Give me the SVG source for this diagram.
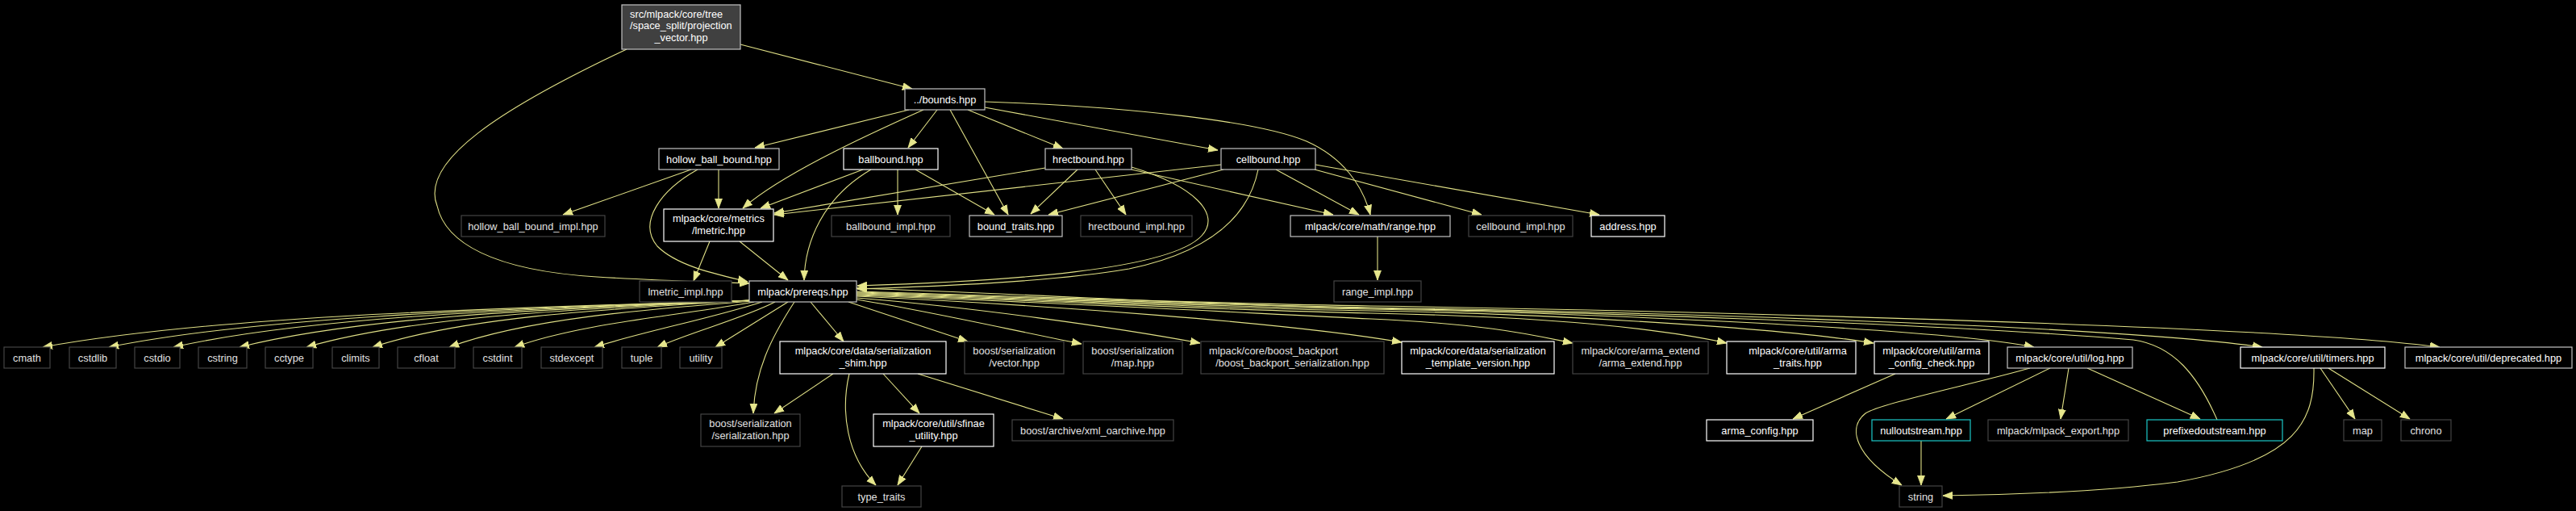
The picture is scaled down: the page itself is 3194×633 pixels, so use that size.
<svg xmlns="http://www.w3.org/2000/svg" width="3194" height="633" viewBox="0 0 3194 633">
<style>
text{font-family:"Liberation Sans",Arial,sans-serif;font-size:12.8px;fill:#ffffff;text-anchor:middle}
.n rect{fill:#000000;stroke-width:1.2}
.doc rect{stroke:#ffffff}
.gry rect{stroke:#c4c4c4}
.ext rect{stroke:#444444}
.ext text{fill:#e2e2e2}
.trn rect{stroke:#1cc8c8}
#edges path{fill:none;stroke:#e0e086;stroke-width:1.1;marker-end:url(#ah)}
</style>
<defs>
<marker id="ah" markerWidth="13" markerHeight="10" refX="12" refY="5" orient="auto" markerUnits="userSpaceOnUse"><path d="M0,0.5 L12,5 L0,9.5 z" fill="#e6e68c" stroke="#e6e68c" stroke-width="0.8"/></marker>
</defs>
<rect x="0" y="0" width="3194" height="633" fill="#000000"/>
<g id="edges">
<path d="M918,55 L1131,110"/>
<path d="M777,61 C620,135 520,200 542,255 C552,300 610,335 740,343 C820,348 880,349 929,351"/>
<path d="M1127,136 L936,183"/>
<path d="M1145,136 C1080,165 970,215 921,258"/>
<path d="M1162,136 L1126,183"/>
<path d="M1178,136 L1250,266"/>
<path d="M1200,136 L1318,184"/>
<path d="M1221,133 L1510,186"/>
<path d="M1221,126 C1400,132 1560,150 1620,175 C1665,195 1690,230 1699,266"/>
<path d="M857,210 L698,266"/>
<path d="M891,210 L891,258"/>
<path d="M865,210 C820,235 790,275 815,305 C840,330 890,340 927,349"/>
<path d="M880,299 L860,348"/>
<path d="M917,299 L977,347"/>
<path d="M1070,210 L943,258"/>
<path d="M1080,210 C1020,245 998,300 997,347"/>
<path d="M1113,210 L1113,266"/>
<path d="M1135,210 L1233,266"/>
<path d="M1296,208 L960,264"/>
<path d="M1336,210 L1278,265"/>
<path d="M1358,210 L1396,266"/>
<path d="M1403,207 C1480,230 1515,265 1490,292 C1450,335 1250,348 1063,354"/>
<path d="M1403,210 L1653,266"/>
<path d="M1514,204 L960,266"/>
<path d="M1517,210 L1300,266"/>
<path d="M1560,210 C1550,260 1510,310 1400,333 C1300,350 1150,355 1063,358"/>
<path d="M1582,210 L1685,266"/>
<path d="M1630,210 L1837,266"/>
<path d="M1631,204 L1983,266"/>
<path d="M1708,293 L1708,347"/>
<path d="M932,372 C624,382 273,390 53,430"/>
<path d="M932,372 C653,382 334,390 135,430"/>
<path d="M932,372 C681,382 394,390 215,430"/>
<path d="M932,372 C710,382 456,390 297,430"/>
<path d="M932,372 C739,382 518,390 380,430"/>
<path d="M932,372 C768,382 580,391 462,430"/>
<path d="M933,373 C801,383 651,395 557,430"/>
<path d="M935,374 C850,390 720,400 638,430"/>
<path d="M945,374 C880,395 800,410 737,430"/>
<path d="M961,374 C920,395 860,410 815,430"/>
<path d="M977,374 L887,430"/>
<path d="M985,374 C955,420 936,460 934,512"/>
<path d="M1005,374 L1046,423"/>
<path d="M1033,463 L960,512"/>
<path d="M1095,463 L1140,512"/>
<path d="M1138,463 L1318,519"/>
<path d="M1053,463 C1042,510 1050,565 1086,601"/>
<path d="M1143,553 L1113,601"/>
<path d="M1052,374 L1200,423"/>
<path d="M1062,371 C1150,385 1250,408 1341,426"/>
<path d="M1062,369 C1200,380 1380,405 1488,425"/>
<path d="M1062,367 C1300,378 1600,400 1738,424"/>
<path d="M1062,366 C1300,374 1550,388 1700,395 S1900,415 1950,425"/>
<path d="M1062,365 C1300,372 1500,384 1700,388 S2050,405 2141,425"/>
<path d="M1062,364 C1300,371 1500,382 1700,385 S2200,405 2323,425"/>
<path d="M1062,363 C1300,370 1500,380 1700,383 S2400,405 2522,430"/>
<path d="M1062,362 C1300,369 1500,378 1700,381 S2600,400 2805,430"/>
<path d="M1062,361 C1300,368 1500,376 1700,379 S2800,400 3025,430"/>
<path d="M2749,520 C2725,465 2695,428 2645,421 C2400,400 1900,385 1700,382 C1500,378 1300,365 1062,357"/>
<path d="M2517,456 C2450,475 2330,500 2313,512 C2290,530 2300,565 2358,601"/>
<path d="M2542,456 L2413,519"/>
<path d="M2565,456 L2555,519"/>
<path d="M2588,456 L2728,519"/>
<path d="M2382,546 L2382,601"/>
<path d="M2869,456 C2870,520 2850,570 2700,597 C2600,610 2480,613 2409,614"/>
<path d="M2877,456 L2920,519"/>
<path d="M2887,456 L2988,519"/>
<path d="M2350,463 L2223,519"/>
</g>
<g id="n_top" class="n"><rect x="771" y="6" width="147" height="55" style="fill:#404040;stroke:#c4c4c4"/><text x="781" y="21.5" style="text-anchor:start">src/mlpack/core/tree</text><text x="781" y="36.3" style="text-anchor:start">/space_split/projection</text><text x="844.5" y="51">_vector.hpp</text></g>
<g id="n_bounds" class="n gry"><rect x="1122" y="110" width="99" height="26"/><text x="1171.5" y="127.5">../bounds.hpp</text></g>
<g id="n_hollow" class="n gry"><rect x="817" y="184" width="149" height="26"/><text x="891.5" y="201.5">hollow_ball_bound.hpp</text></g>
<g id="n_ballbound" class="n doc"><rect x="1046" y="184" width="117" height="26"/><text x="1104.5" y="201.5">ballbound.hpp</text></g>
<g id="n_hrect" class="n gry"><rect x="1296" y="184" width="107" height="26"/><text x="1349.5" y="201.5">hrectbound.hpp</text></g>
<g id="n_cell" class="n gry"><rect x="1514" y="184" width="117" height="26"/><text x="1572.5" y="201.5">cellbound.hpp</text></g>
<g id="n_hollow_impl" class="n ext"><rect x="572" y="267" width="178" height="26"/><text x="661" y="284.5">hollow_ball_bound_impl.hpp</text></g>
<g id="n_lmetric" class="n doc"><rect x="823" y="259" width="136" height="40"/><text x="891" y="275.3">mlpack/core/metrics</text><text x="891" y="290">/lmetric.hpp</text></g>
<g id="n_ballimpl" class="n ext"><rect x="1031" y="267" width="147" height="26"/><text x="1104.5" y="284.5">ballbound_impl.hpp</text></g>
<g id="n_boundtraits" class="n gry"><rect x="1202" y="267" width="115" height="26"/><text x="1259.5" y="284.5">bound_traits.hpp</text></g>
<g id="n_hrectimpl" class="n ext"><rect x="1340" y="267" width="138" height="26"/><text x="1409" y="284.5">hrectbound_impl.hpp</text></g>
<g id="n_range" class="n gry"><rect x="1600" y="267" width="198" height="26"/><text x="1699" y="284.5">mlpack/core/math/range.hpp</text></g>
<g id="n_cellimpl" class="n ext"><rect x="1821" y="267" width="129" height="26"/><text x="1885.5" y="284.5">cellbound_impl.hpp</text></g>
<g id="n_address" class="n doc"><rect x="1973" y="267" width="91" height="26"/><text x="2018.5" y="284.5">address.hpp</text></g>
<g id="n_lmetric_impl" class="n ext"><rect x="793" y="348" width="114" height="26"/><text x="850" y="365.5">lmetric_impl.hpp</text></g>
<g id="n_prereqs" class="n gry"><rect x="929" y="348" width="133" height="26"/><text x="995.5" y="365.5">mlpack/prereqs.hpp</text></g>
<g id="n_range_impl" class="n ext"><rect x="1654" y="348" width="108" height="26"/><text x="1708" y="365.5">range_impl.hpp</text></g>
<g id="n_cmath" class="n ext"><rect x="5" y="430" width="57" height="26"/><text x="33.5" y="447.5">cmath</text></g>
<g id="n_cstdlib" class="n ext"><rect x="86" y="430" width="58" height="26"/><text x="115" y="447.5">cstdlib</text></g>
<g id="n_cstdio" class="n ext"><rect x="167" y="430" width="56" height="26"/><text x="195" y="447.5">cstdio</text></g>
<g id="n_cstring" class="n ext"><rect x="246" y="430" width="60" height="26"/><text x="276" y="447.5">cstring</text></g>
<g id="n_cctype" class="n ext"><rect x="329" y="430" width="59" height="26"/><text x="358.5" y="447.5">cctype</text></g>
<g id="n_climits" class="n ext"><rect x="412" y="430" width="58" height="26"/><text x="441" y="447.5">climits</text></g>
<g id="n_cfloat" class="n ext"><rect x="493" y="430" width="71" height="26"/><text x="528.5" y="447.5">cfloat</text></g>
<g id="n_cstdint" class="n ext"><rect x="587" y="430" width="60" height="26"/><text x="617" y="447.5">cstdint</text></g>
<g id="n_stdexcept" class="n ext"><rect x="671" y="430" width="76" height="26"/><text x="709" y="447.5">stdexcept</text></g>
<g id="n_tuple" class="n ext"><rect x="771" y="430" width="49" height="26"/><text x="795.5" y="447.5">tuple</text></g>
<g id="n_utility" class="n ext"><rect x="843" y="430" width="52" height="26"/><text x="869" y="447.5">utility</text></g>
<g id="n_shim" class="n doc"><rect x="967" y="423" width="206" height="40"/><text x="1070" y="439.3">mlpack/core/data/serialization</text><text x="1070" y="454">_shim.hpp</text></g>
<g id="n_bvector" class="n ext"><rect x="1196" y="423" width="123" height="40"/><text x="1257.5" y="439.3">boost/serialization</text><text x="1257.5" y="454">/vector.hpp</text></g>
<g id="n_bmap" class="n ext"><rect x="1343" y="423" width="123" height="40"/><text x="1404.5" y="439.3">boost/serialization</text><text x="1404.5" y="454">/map.hpp</text></g>
<g id="n_backport" class="n ext"><rect x="1489" y="423" width="227" height="40"/><text x="1499" y="439.3" style="text-anchor:start">mlpack/core/boost_backport</text><text x="1602.5" y="454">/boost_backport_serialization.hpp</text></g>
<g id="n_template" class="n doc"><rect x="1738" y="423" width="189" height="40"/><text x="1832.5" y="439.3">mlpack/core/data/serialization</text><text x="1832.5" y="454">_template_version.hpp</text></g>
<g id="n_arma_extend" class="n ext"><rect x="1950" y="423" width="168" height="40"/><text x="2034" y="439.3">mlpack/core/arma_extend</text><text x="2034" y="454">/arma_extend.hpp</text></g>
<g id="n_arma_traits" class="n doc"><rect x="2141" y="423" width="160" height="40"/><text x="2229" y="439.3">mlpack/core/util/arma</text><text x="2229" y="454">_traits.hpp</text></g>
<g id="n_config_check" class="n doc"><rect x="2324" y="423" width="142" height="40"/><text x="2395" y="439.3">mlpack/core/util/arma</text><text x="2395" y="454">_config_check.hpp</text></g>
<g id="n_log" class="n gry"><rect x="2489" y="430" width="155" height="26"/><text x="2566.5" y="447.5">mlpack/core/util/log.hpp</text></g>
<g id="n_timers" class="n doc"><rect x="2778" y="430" width="179" height="26"/><text x="2867.5" y="447.5">mlpack/core/util/timers.hpp</text></g>
<g id="n_deprecated" class="n gry"><rect x="2982" y="430" width="207" height="26"/><text x="3085.5" y="447.5">mlpack/core/util/deprecated.hpp</text></g>
<g id="n_serialization" class="n ext"><rect x="869" y="513" width="123" height="40"/><text x="930.5" y="529.3">boost/serialization</text><text x="930.5" y="544">/serialization.hpp</text></g>
<g id="n_sfinae" class="n doc"><rect x="1083" y="513" width="149" height="40"/><text x="1157.5" y="529.3">mlpack/core/util/sfinae</text><text x="1157.5" y="544">_utility.hpp</text></g>
<g id="n_xml" class="n ext"><rect x="1255" y="520" width="200" height="26"/><text x="1355" y="537.5">boost/archive/xml_oarchive.hpp</text></g>
<g id="n_arma_config" class="n doc"><rect x="2116" y="520" width="132" height="26"/><text x="2182" y="537.5">arma_config.hpp</text></g>
<g id="n_nullout" class="n trn"><rect x="2321" y="520" width="122" height="26"/><text x="2382" y="537.5">nulloutstream.hpp</text></g>
<g id="n_mlexport" class="n ext"><rect x="2465" y="520" width="174" height="26"/><text x="2552" y="537.5">mlpack/mlpack_export.hpp</text></g>
<g id="n_prefixed" class="n trn"><rect x="2662" y="520" width="168" height="26"/><text x="2746" y="537.5">prefixedoutstream.hpp</text></g>
<g id="n_map" class="n ext"><rect x="2906" y="520" width="47" height="26"/><text x="2929.5" y="537.5">map</text></g>
<g id="n_chrono" class="n ext"><rect x="2977" y="520" width="62" height="26"/><text x="3008" y="537.5">chrono</text></g>
<g id="n_type_traits" class="n ext"><rect x="1044" y="602" width="98" height="26"/><text x="1093" y="619.5">type_traits</text></g>
<g id="n_string" class="n ext"><rect x="2355" y="602" width="53" height="26"/><text x="2381.5" y="619.5">string</text></g>
</svg>
